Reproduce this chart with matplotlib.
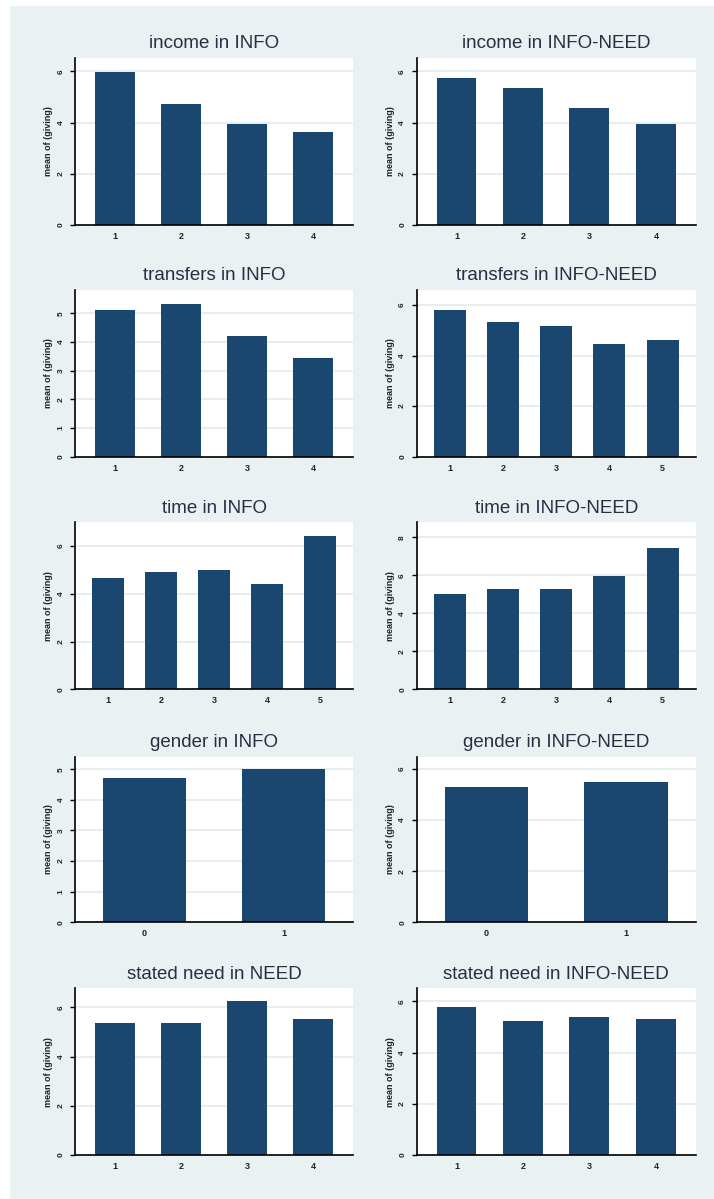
import matplotlib
matplotlib.use("Agg")
import matplotlib.pyplot as plt
from matplotlib.patches import Rectangle

plt.rcParams['font.family'] = ['Liberation Sans', 'DejaVu Sans']

# mean of giving by group, one list per panel
income_cats = ["1", "2", "3", "4"]
income_info = [5.98, 4.73, 3.95, 3.63]
income_infoneed = [5.73, 5.34, 4.56, 3.93]

transfers_info_cats = ["1", "2", "3", "4"]
transfers_info = [5.11, 5.32, 4.20, 3.43]
transfers_infoneed_cats = ["1", "2", "3", "4", "5"]
transfers_infoneed = [5.80, 5.31, 5.17, 4.44, 4.60]

time_cats = ["1", "2", "3", "4", "5"]
time_info = [4.64, 4.90, 4.98, 4.39, 6.40]
time_infoneed = [5.00, 5.29, 5.29, 5.95, 7.42]

gender_cats = ["0", "1"]
gender_info = [4.71, 5.02]
gender_infoneed = [5.31, 5.48]

need_cats = ["1", "2", "3", "4"]
need_need = [5.38, 5.38, 6.27, 5.54]
need_infoneed = [5.79, 5.25, 5.40, 5.32]

panels = [
    ("income in INFO", income_cats, income_info, [0, 2, 4, 6], 6.52),
    ("income in INFO-NEED", income_cats, income_infoneed, [0, 2, 4, 6], 6.52),
    ("transfers in INFO", transfers_info_cats, transfers_info, [0, 1, 2, 3, 4, 5], 5.81),
    ("transfers in INFO-NEED", transfers_infoneed_cats, transfers_infoneed, [0, 2, 4, 6], 6.59),
    ("time in INFO", time_cats, time_info, [0, 2, 4, 6], 6.99),
    ("time in INFO-NEED", time_cats, time_infoneed, [0, 2, 4, 6, 8], 8.79),
    ("gender in INFO", gender_cats, gender_info, [0, 1, 2, 3, 4, 5], 5.41),
    ("gender in INFO-NEED", gender_cats, gender_infoneed, [0, 2, 4, 6], 6.48),
    ("stated need in NEED", need_cats, need_need, [0, 2, 4, 6], 6.77),
    ("stated need in INFO-NEED", need_cats, need_infoneed, [0, 2, 4, 6], 6.51),
]

W, H = 714, 1199
fig = plt.figure(figsize=(W / 100, H / 100), dpi=100, facecolor="white")

# light bluish-gray graph region behind all panels
bg = Rectangle((10 / W, 0), (W - 10) / W, (H - 6) / H,
               transform=fig.transFigure, facecolor="#eaf1f3",
               edgecolor="none", zorder=-10)
fig.add_artist(bg)

col_x = [(75, 353), (416.7, 695.7)]
row_y = [(58, 225), (290, 456.7), (522.3, 689.3), (756.7, 922.3), (988.3, 1155)]
margin = {2: 0.5, 4: 0.6, 5: 0.62}

bar_color = "#1a476f"
grid_color = "#e3edf0"
title_color = "#263042"

for i, (title, cats, vals, yticks, ytop) in enumerate(panels):
    x0, x1 = col_x[i % 2]
    y0, y1 = row_y[i // 2]
    ax = fig.add_axes([x0 / W, 1 - y1 / H, (x1 - x0) / W, (y1 - y0) / H])
    ax.set_facecolor("white")

    n = len(cats)
    pos = list(range(1, n + 1)) if cats[0] != "0" else list(range(n))
    ax.bar(pos, vals, width=0.6, color=bar_color, zorder=3)
    m = margin[n]
    ax.set_xlim(pos[0] - m, pos[-1] + m)
    ax.set_ylim(0, ytop)

    ax.set_yticks(yticks)
    ax.set_yticklabels([str(t) for t in yticks], rotation=90, va="center",
                       fontsize=6, fontweight="bold", color="#222222")
    ax.set_xticks(pos)
    ax.set_xticklabels(cats, fontsize=6.5, fontweight="bold", color="#222222")
    ax.tick_params(axis="y", length=3.6, width=1.0, pad=4)
    ax.tick_params(axis="x", length=0, pad=5)
    ax.grid(axis="y", color=grid_color, lw=1.3, zorder=1)

    for s in ("top", "right"):
        ax.spines[s].set_visible(False)
    for s in ("left", "bottom"):
        ax.spines[s].set_linewidth(1.2)
        ax.spines[s].set_zorder(4)

    ax.set_ylabel("mean of (giving)", fontsize=6.5, fontweight="bold",
                  color="#222222", labelpad=3)
    ax.set_title(title, fontsize=13.5, color=title_color, pad=7)

fig.savefig("out.png", dpi=100, facecolor="white")
